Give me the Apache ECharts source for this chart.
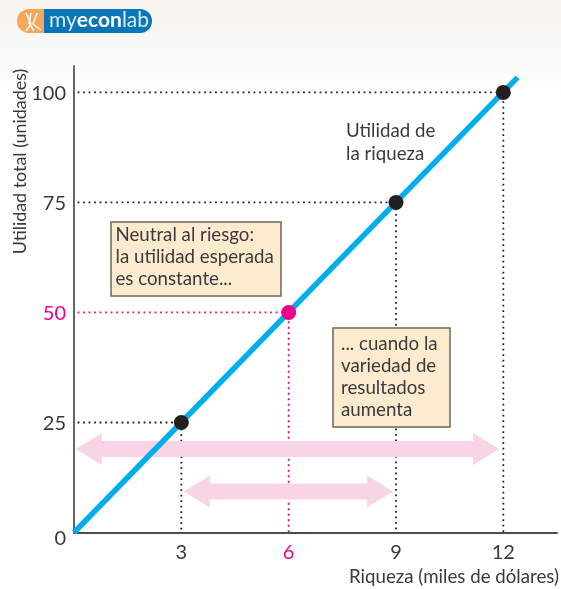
<!DOCTYPE html>
<html>
<head>
<meta charset="utf-8">
<style>html,body{margin:0;padding:0;background:#fff}#chart{width:561px;height:589px}</style>
<script src="https://cdn.jsdelivr.net/npm/echarts@6/dist/echarts.min.js"></script>
</head>
<body>
<div id="chart"></div>
<script>
// chart values
const wealth = [3, 6, 9, 12];
const utility = [25, 50, 75, 100];
const curveX = [0, 12.4];
const curveY = [0, 103.4];
const arrowFrom = [0.05, 3.07];
const arrowTo = [11.88, 8.92];
const arrowAt = [19, 9.3];

const dark = '#231f20';
const text = '#3a3a3a';
const pink = '#ec008c';
const font = 'Lato';

const myChart = echarts.init(document.getElementById('chart'));

// dotted guides from each point to both axes
const guides = wealth.map((x, i) => ({
  type: 'line',
  silent: true,
  symbol: 'none',
  z: 1,
  data: [[0.1, utility[i]], [x, utility[i]], [x, 0]],
  lineStyle: { color: utility[i] === 50 ? pink : dark, width: 1.8, type: [1.8, 3.7] }
}));

function renderArrow(params, api) {
  const a = api.coord([api.value(0), api.value(2)]);
  const b = api.coord([api.value(1), api.value(2)]);
  const head = 26, body = 8, wing = 16;
  return {
    type: 'polygon',
    shape: {
      points: [
        [a[0], a[1]], [a[0] + head, a[1] - wing], [a[0] + head, a[1] - body],
        [b[0] - head, b[1] - body], [b[0] - head, b[1] - wing], [b[0], b[1]],
        [b[0] - head, b[1] + wing], [b[0] - head, b[1] + body],
        [a[0] + head, a[1] + body], [a[0] + head, a[1] + wing]
      ]
    },
    style: { fill: '#f8d5e6' }
  };
}

function noteBox(x, y, w, h, lines, lineH, padX, padY) {
  return {
    type: 'group',
    children: [
      { type: 'rect', z: 100, shape: { x, y, width: w, height: h }, style: { fill: '#fdebcf', stroke: '#6f675a', lineWidth: 1.5 } },
      { type: 'text', z: 101, x: x + padX, y: y + padY, style: { text: lines, fill: text, font: '18.7px ' + font, lineHeight: lineH } }
    ]
  };
}

const option = {
  animation: false,
  backgroundColor: {
    type: 'linear', x: 0, y: 0, x2: 0, y2: 1,
    colorStops: [{ offset: 0, color: '#f4f3ed' }, { offset: 0.17, color: '#ffffff' }, { offset: 1, color: '#ffffff' }]
  },
  grid: { left: 74, right: 4, top: 66, bottom: 56.5, outerBoundsMode: 'none' },
  xAxis: {
    type: 'value', min: 0, max: 13.5, interval: 3,
    splitLine: { show: false },
    axisTick: { show: false },
    axisLine: { lineStyle: { color: '#4d4d4d', width: 2 } },
    axisLabel: {
      showMinLabel: false, showMaxLabel: false, margin: 10,
      fontFamily: font, fontSize: 20,
      color: (v) => (Number(v) === 6 ? pink : text)
    },
    name: 'Riqueza (miles de dólares)',
    nameLocation: 'end',
    nameGap: 2,
    nameTextStyle: { fontFamily: font, fontSize: 18.7, color: text, align: 'right', verticalAlign: 'top', padding: [35, 0, 0, 0] }
  },
  yAxis: {
    type: 'value', min: 0, max: 106, interval: 25,
    splitLine: { show: false },
    axisTick: { show: false },
    axisLine: { lineStyle: { color: '#666666', width: 2 } },
    axisLabel: {
      showMaxLabel: false, margin: 8, padding: [2, 0, 0, 0],
      fontFamily: font, fontSize: 20,
      color: (v) => (Number(v) === 50 ? pink : text),
      formatter: (v) => (v === 0 ? '{zero|0}' : String(v)),
      rich: { zero: { fontFamily: font, fontSize: 20, color: text, padding: [10, 0, 0, 0] } }
    }
  },
  series: [
    ...guides,
    {
      type: 'custom',
      silent: true,
      z: 2,
      renderItem: renderArrow,
      encode: { x: [0, 1], y: 2 },
      data: arrowFrom.map((x, i) => [x, arrowTo[i], arrowAt[i]])
    },
    {
      type: 'line',
      silent: true,
      symbol: 'none',
      z: 3,
      data: curveX.map((x, i) => [x, curveY[i]]),
      lineStyle: { color: '#00aeef', width: 5.5 }
    },
    {
      type: 'scatter',
      silent: true,
      z: 4,
      symbolSize: 15,
      data: wealth.map((x, i) => ({
        value: [x, utility[i]],
        itemStyle: { color: utility[i] === 50 ? pink : dark, opacity: 1 }
      }))
    }
  ],
  graphic: [
    // logo
    { type: 'rect', z: 100, shape: { x: 17, y: 9, width: 40, height: 24, r: 12 }, style: { fill: '#f9a55c' } },
    { type: 'rect', z: 101, shape: { x: 44, y: 9, width: 108, height: 24, r: [0, 12, 12, 0] }, style: { fill: '#0a76b7', stroke: '#fff', lineWidth: 0 } },
    { type: 'polyline', z: 102, shape: { points: [[26, 13], [31, 24], [26, 31]] }, style: { stroke: '#fff', fill: null, lineWidth: 1.5 } },
    { type: 'polyline', z: 102, shape: { points: [[31, 13], [29, 23], [34, 31]] }, style: { stroke: '#fff', fill: null, lineWidth: 1.5 } },
    { type: 'polyline', z: 102, shape: { points: [[37, 13], [33, 24], [41, 30]] }, style: { stroke: '#fff', fill: null, lineWidth: 1.5 } },
    {
      type: 'text', z: 102, x: 49, y: 10,
      style: {
        text: '{a|my}{b|econ}{a|lab}',
        fill: '#ffffff',
        rich: {
          a: { fill: '#d5ecf8', fontFamily: font, fontSize: 21, fontWeight: 'normal' },
          b: { fill: '#ffffff', fontFamily: font, fontSize: 21, fontWeight: 'bold' }
        }
      }
    },
    // y axis title
    { type: 'text', z: 100, x: 20.5, y: 161.5, rotation: Math.PI / 2, style: { text: 'Utilidad total (unidades)', fill: text, font: '17.9px ' + font, align: 'center', verticalAlign: 'middle' } },
    // curve label
    { type: 'text', z: 100, x: 346, y: 119, style: { text: 'Utilidad de\nla riqueza', fill: text, font: '18.7px ' + font, lineHeight: 23 } },
    noteBox(111, 222, 170, 74, 'Neutral al riesgo:\nla utilidad esperada\nes constante...', 22, 4.5, 2),
    noteBox(333, 328, 117, 99, '... cuando la\nvariedad de\nresultados\naumenta', 22, 8, 5)
  ]
};

myChart.setOption(option);
</script>
</body>
</html>
